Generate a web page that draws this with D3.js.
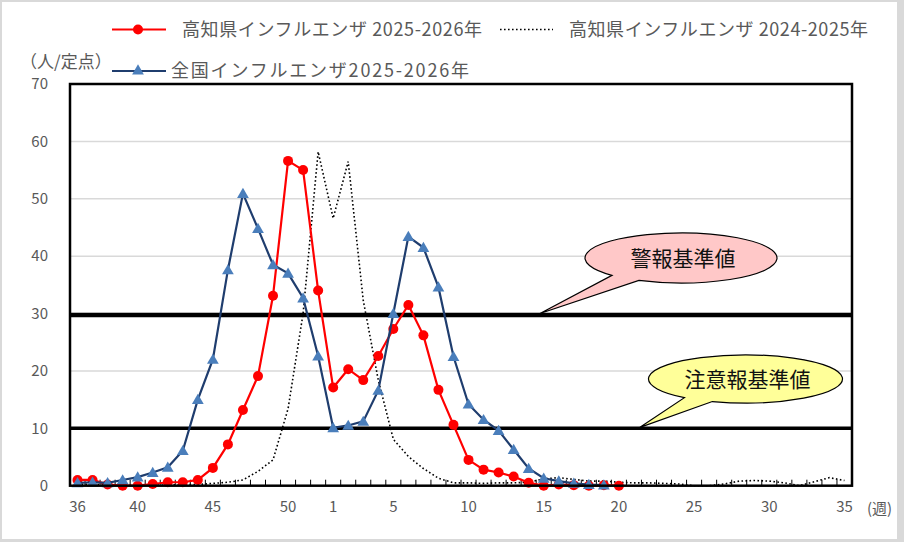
<!DOCTYPE html>
<html>
<head>
<meta charset="utf-8">
<script src="https://cdn.jsdelivr.net/npm/d3@7"></script>
<style>
  body { margin: 0; background: #fff; }
  svg { display: block; font-family: "Noto Sans CJK JP", "Noto Sans", sans-serif; }
</style>
</head>
<body>
<script>
// week labels (36 .. 52, then 1 .. 35)
const weeks = ["36","37","38","39","40","41","42","43","44","45","46","47","48","49","50","51","52",
  "1","2","3","4","5","6","7","8","9","10","11","12","13","14","15","16","17","18","19","20",
  "21","22","23","24","25","26","27","28","29","30","31","32","33","34","35"];
const tickWeeks = ["36","40","45","50","1","5","10","15","20","25","30","35"];
const yTicks = [0, 10, 20, 30, 40, 50, 60, 70];

// 高知県 2025-2026 (weeks 36 .. 20)
const kochi2526 = [1.0, 1.0, 0.2, 0.0, 0.0, 0.3, 0.6, 0.6, 1.0, 3.1, 7.2, 13.2, 19.1, 33.1, 56.6, 55.0, 34.0,
  17.1, 20.3, 18.4, 22.6, 27.3, 31.5, 26.2, 16.7, 10.6, 4.5, 2.8, 2.3, 1.6, 0.5, 0.0, 0.2, 0.1, 0.0, 0.1, 0.0];
// 全国 2025-2026 (weeks 36 .. 19)
const national2526 = [0.5, 0.6, 0.5, 1.0, 1.5, 2.3, 3.2, 6.1, 15.0, 22.0, 37.6, 50.9, 44.8, 38.5, 37.0, 32.7, 22.6,
  10.1, 10.5, 11.2, 16.6, 30.0, 43.4, 41.5, 34.6, 22.5, 14.2, 11.5, 9.6, 6.3, 3.0, 1.3, 0.8, 0.4, 0.2, 0.1];
// 高知県 2024-2025 (weeks 36 .. 35)
const kochi2425 = [0.3, 0.2, 0.2, 0.1, 0.1, 0.1, 0.1, 0.2, 0.2, 0.4, 0.6, 1.0, 2.5, 4.5, 13.4, 30.0, 58.2,
  46.6, 56.5, 32.3, 18.4, 8.1, 5.1, 3.0, 1.3, 0.5, 0.5, 0.4, 0.5, 0.5, 0.6, 1.2, 1.4, 1.1, 0.8, 0.8, 0.6,
  0.5, 0.5, 0.4, 0.3, 0.0, 0.0, 0.3, 0.8, 0.9, 0.8, 0.5, 0.0, 0.7, 1.4, 0.9];

const alarmLevel = 30;     // 警報基準値
const warningLevel = 10;   // 注意報基準値

const W = 904, H = 542;
const svg = d3.select("body").append("svg").attr("width", W).attr("height", H);

// background frame
svg.append("rect").attr("width", W).attr("height", H).attr("fill", "#d9d9d9");
svg.append("rect").attr("x", 2).attr("y", 2).attr("width", 895).attr("height", 537).attr("fill", "#fff");

const pad = {left: 70, right: 852, top: 84, bottom: 485.7};

const x = d3.scaleBand().domain(weeks).range([pad.left, pad.right]);
const y = d3.scaleLinear().domain([0, 70]).range([pad.bottom, pad.top]);
const cx = d => x(d) + x.bandwidth() / 2;

// gridlines
svg.append("g")
   .selectAll("line")
   .data(yTicks.filter(v => v > 0 && v < 70))
   .enter().append("line")
   .attr("x1", pad.left).attr("x2", pad.right)
   .attr("y1", d => y(d)).attr("y2", d => y(d))
   .attr("stroke", "#d9d9d9").attr("stroke-width", 1.5);

// threshold lines
svg.append("line")
   .attr("x1", pad.left).attr("x2", pad.right)
   .attr("y1", y(alarmLevel) + 1.5).attr("y2", y(alarmLevel) + 1.5)
   .attr("stroke", "#000").attr("stroke-width", 4.5);
svg.append("line")
   .attr("x1", pad.left).attr("x2", pad.right)
   .attr("y1", y(warningLevel)).attr("y2", y(warningLevel))
   .attr("stroke", "#000").attr("stroke-width", 3.5);

// week ticks (inside, between categories)
svg.append("g")
   .selectAll("line")
   .data(weeks.map(w => x(w)).concat([pad.right]))
   .enter().append("line")
   .attr("x1", d => d).attr("x2", d => d)
   .attr("y1", pad.bottom).attr("y2", pad.bottom - 6)
   .attr("stroke", "#000").attr("stroke-width", 1);

// y axis labels
const yAxis = d3.axisLeft(y).tickValues(yTicks).tickSize(0).tickPadding(22);
const yg = svg.append("g").attr("transform", `translate(${pad.left},0)`).call(yAxis);
yg.select(".domain").remove();
yg.selectAll("text").attr("fill", "#595959").style("font-size", "15px")
  .style("font-family", "'Noto Sans CJK JP', sans-serif");

// x axis labels
const xAxis = d3.axisBottom(x).tickValues(tickWeeks).tickSize(0).tickPadding(16);
const xg = svg.append("g").attr("transform", `translate(0,${pad.bottom})`).call(xAxis);
xg.select(".domain").remove();
xg.selectAll("text").attr("fill", "#595959").style("font-size", "15px")
  .style("font-family", "'Noto Sans CJK JP', sans-serif");

svg.append("text")
   .attr("x", 867).attr("y", 514)
   .attr("fill", "#595959").style("font-size", "15px")
   .text("(週)");

// lines
const line = d3.line().x(d => cx(d.w)).y(d => y(d.v));
const toPts = arr => arr.map((v, i) => ({w: weeks[i], v: v}));

svg.append("path")
   .attr("d", line(toPts(kochi2425)))
   .attr("fill", "none").attr("stroke", "#000")
   .attr("stroke-width", 1.6).attr("stroke-dasharray", "1.6,2.4");

const redPts = toPts(kochi2526);
svg.append("path")
   .attr("d", line(redPts))
   .attr("fill", "none").attr("stroke", "#ff0000").attr("stroke-width", 2.2);
svg.append("g").selectAll("circle")
   .data(redPts).enter().append("circle")
   .attr("cx", d => cx(d.w)).attr("cy", d => y(d.v)).attr("r", 5)
   .attr("fill", "#ff0000");

const bluePts = toPts(national2526);
const tri = d3.symbol().type(d3.symbolTriangle).size(60);
svg.append("path")
   .attr("d", line(bluePts))
   .attr("fill", "none").attr("stroke", "#1f3d6e").attr("stroke-width", 2.2);
svg.append("g").selectAll("path")
   .data(bluePts).enter().append("path")
   .attr("d", tri)
   .attr("transform", d => `translate(${cx(d.w)},${y(d.v) + 1})`)
   .attr("fill", "#4a7ebb");

// plot frame
svg.append("rect")
   .attr("x", pad.left).attr("y", pad.top)
   .attr("width", pad.right - pad.left).attr("height", pad.bottom - pad.top)
   .attr("fill", "none").attr("stroke", "#000").attr("stroke-width", 2.5);

// callouts
const callout = function(c, a1, a2, tip, fill, label){
  const p = a => [c.x + c.rx * Math.cos(a * Math.PI / 180), c.y + c.ry * Math.sin(a * Math.PI / 180)];
  const p1 = p(a1), p2 = p(a2);
  const d = `M${p2[0]},${p2[1]} A${c.rx},${c.ry} 0 1 1 ${p1[0]},${p1[1]} L${tip[0]},${tip[1]} Z`;
  svg.append("path").attr("d", d)
     .attr("fill", fill).attr("stroke", "#000").attr("stroke-width", 1.2);
  svg.append("text")
     .attr("x", c.x + 2).attr("y", c.y + 8)
     .attr("text-anchor", "middle")
     .attr("fill", "#111").style("font-size", "21px")
     .text(label);
};
callout({x: 681, y: 258, rx: 96, ry: 25}, 116, 136, [540, y(alarmLevel)], "#ffc8c8", "警報基準値");
callout({x: 745.5, y: 379, rx: 97, ry: 24}, 110, 129, [640, y(warningLevel) - 1], "#ffff99", "注意報基準値");

// legend
const lg = svg.append("g").style("font-size", "18px").attr("fill", "#595959");
lg.append("line").attr("x1", 112).attr("x2", 166).attr("y1", 29.5).attr("y2", 29.5)
  .attr("stroke", "#ff0000").attr("stroke-width", 2.2);
lg.append("circle").attr("cx", 138).attr("cy", 29.5).attr("r", 5).attr("fill", "#ff0000");
lg.append("text").attr("x", 182).attr("y", 36)
  .attr("textLength", 300).attr("lengthAdjust", "spacing")
  .text("高知県インフルエンザ 2025-2026年");

lg.append("line").attr("x1", 500).attr("x2", 553).attr("y1", 29.5).attr("y2", 29.5)
  .attr("stroke", "#000").attr("stroke-width", 1.6).attr("stroke-dasharray", "1.6,2.4");
lg.append("text").attr("x", 569).attr("y", 36)
  .attr("textLength", 299).attr("lengthAdjust", "spacing")
  .text("高知県インフルエンザ 2024-2025年");

lg.append("line").attr("x1", 112).attr("x2", 166).attr("y1", 71).attr("y2", 71)
  .attr("stroke", "#1f3d6e").attr("stroke-width", 2.2);
lg.append("path").attr("d", tri).attr("transform", "translate(138,71)").attr("fill", "#4a7ebb");
lg.append("text").attr("x", 171).attr("y", 77)
  .attr("textLength", 298).attr("lengthAdjust", "spacing")
  .text("全国インフルエンザ2025-2026年");

svg.append("text").attr("x", 20).attr("y", 68)
   .attr("fill", "#595959").style("font-size", "17px")
   .text("（人/定点）");
</script>
</body>
</html>
